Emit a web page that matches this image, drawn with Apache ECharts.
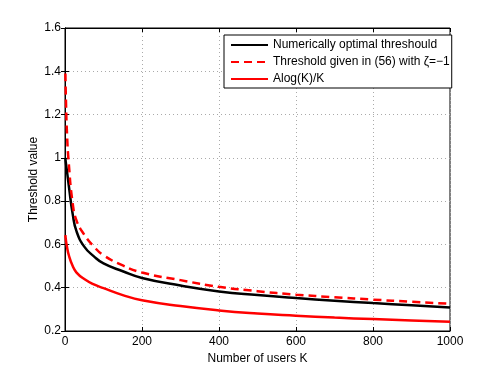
<!DOCTYPE html>
<html>
<head>
<meta charset="utf-8">
<script src="https://cdn.jsdelivr.net/npm/echarts@6/dist/echarts.min.js"></script>
<style>
  html, body { margin: 0; padding: 0; background: #fff; }
  #chart { width: 498px; height: 373px; }
</style>
</head>
<body>
<div id="chart"></div>
<script>
// values
var usersK = [1, 2, 5, 10, 20, 30, 50, 75, 100, 150, 200, 300, 400, 500, 600, 700, 800, 900, 1000];
var optimalThreshold = [1.0, 0.98, 0.94, 0.87, 0.74, 0.66, 0.59, 0.545, 0.512, 0.476, 0.445, 0.41, 0.383, 0.366, 0.352, 0.34, 0.329, 0.319, 0.309];
var thresholdEq56 = [1.39, 1.3, 1.12, 0.97, 0.79, 0.71, 0.645, 0.59, 0.55, 0.503, 0.47, 0.435, 0.404, 0.384, 0.368, 0.356, 0.345, 0.335, 0.326];
var alogK = [0.643, 0.625, 0.59, 0.55, 0.5, 0.47, 0.44, 0.415, 0.398, 0.366, 0.342, 0.315, 0.295, 0.281, 0.271, 0.262, 0.255, 0.249, 0.243];
var seriesNames = ['Numerically optimal threshould', 'Threshold given in (56) with \u03b6=\u22121', 'Alog(K)/K'];
var xTicks = [0, 1000, 200];
var yTicks = [0.2, 1.6, 0.2];

function pairs(ys) {
  return usersK.map(function (k, i) { return [k, ys[i]]; });
}

var font = 'Liberation Sans, Arial, Helvetica, sans-serif';
var dotted = { show: true, lineStyle: { color: '#aaa', type: [1, 3], width: 1 } };

var myChart = echarts.init(document.getElementById('chart'));
var option = {
  backgroundColor: '#fff',
  animation: false,
  textStyle: { fontFamily: font },
  grid: { left: 65, right: 48, top: 28, bottom: 42, show: true, borderColor: '#000', borderWidth: 1, backgroundColor: '#fff' },
  legend: {
    orient: 'vertical',
    left: 224,
    top: 35,
    padding: [4, 2, 3, 6],
    itemGap: 5,
    itemWidth: 37,
    itemHeight: 12,
    borderColor: '#000',
    borderWidth: 1,
    borderRadius: 0,
    backgroundColor: '#fff',
    itemStyle: { opacity: 0 },
    textStyle: { fontSize: 12, color: '#000', fontFamily: font },
    data: seriesNames
  },
  xAxis: [{
    type: 'value',
    min: xTicks[0],
    max: xTicks[1],
    interval: xTicks[2],
    name: 'Number of users K',
    nameLocation: 'middle',
    nameGap: 20,
    nameTextStyle: { fontSize: 12, color: '#000' },
    axisLine: { lineStyle: { color: '#000' } },
    axisTick: { inside: true, length: 4, lineStyle: { color: '#000' } },
    axisLabel: { fontSize: 12, color: '#000', margin: 5, formatter: function (v) { return String(v); } },
    splitLine: dotted
  }, {
    type: 'value',
    position: 'top',
    min: xTicks[0],
    max: xTicks[1],
    interval: xTicks[2],
    axisLine: { lineStyle: { color: '#000' } },
    axisTick: { inside: true, length: 4, lineStyle: { color: '#000' } },
    axisLabel: { show: false },
    splitLine: { show: false }
  }],
  yAxis: [{
    type: 'value',
    min: yTicks[0],
    max: yTicks[1],
    interval: yTicks[2],
    name: 'Threshold value',
    nameLocation: 'middle',
    nameGap: 25,
    nameMoveOverlap: false,
    nameRotate: 90,
    nameTextStyle: { fontSize: 12, color: '#000' },
    axisLine: { show: true, lineStyle: { color: '#000' } },
    axisTick: { show: true, inside: true, length: 4, lineStyle: { color: '#000' } },
    axisLabel: { fontSize: 12, color: '#000', margin: 4, formatter: function (v) { return String(+v.toFixed(1)); } },
    splitLine: dotted
  }, {
    type: 'value',
    position: 'right',
    min: yTicks[0],
    max: yTicks[1],
    interval: yTicks[2],
    axisLine: { show: true, lineStyle: { color: '#000' } },
    axisTick: { show: true, inside: true, length: 4, lineStyle: { color: '#000' } },
    axisLabel: { show: false },
    splitLine: { show: false }
  }],
  series: [{
    name: seriesNames[0],
    type: 'line',
    smooth: true,
    symbol: 'none',
    data: pairs(optimalThreshold),
    itemStyle: { color: '#000' },
    lineStyle: { color: '#000', width: 2.5 }
  }, {
    name: seriesNames[1],
    type: 'line',
    smooth: true,
    symbol: 'none',
    data: pairs(thresholdEq56),
    itemStyle: { color: '#ff0000' },
    lineStyle: { color: '#ff0000', width: 2.5, type: [8, 5] }
  }, {
    name: seriesNames[2],
    type: 'line',
    smooth: true,
    symbol: 'none',
    data: pairs(alogK),
    itemStyle: { color: '#ff0000' },
    lineStyle: { color: '#ff0000', width: 2.5 }
  }]
};
myChart.setOption(option);
</script>
</body>
</html>
